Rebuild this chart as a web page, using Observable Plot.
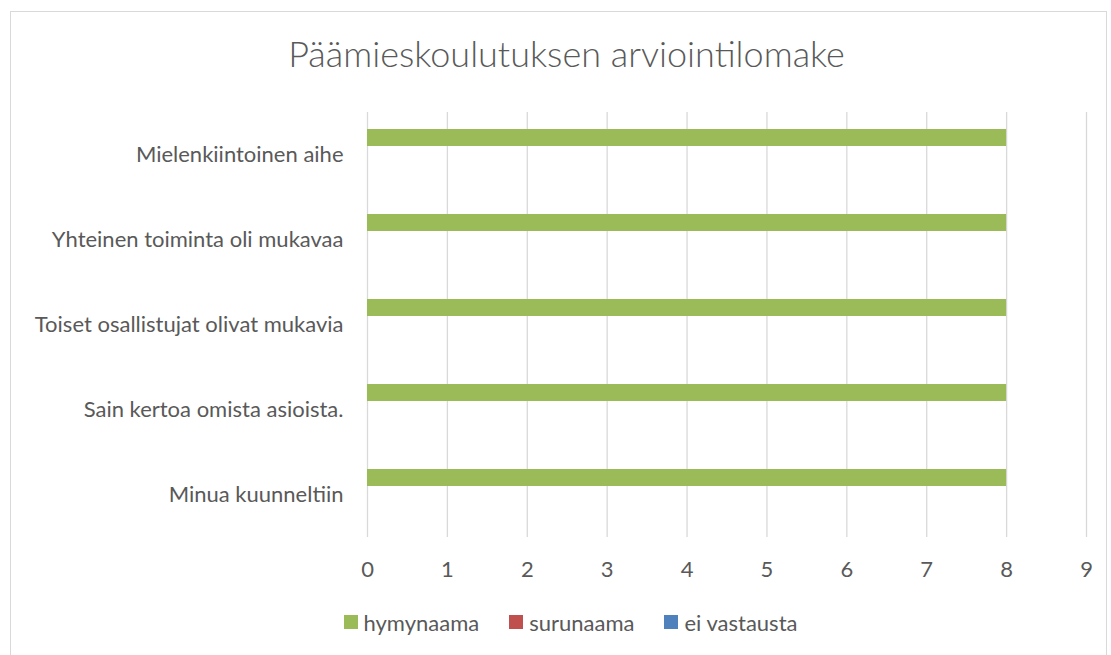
<!DOCTYPE html>
<html>
<head>
<meta charset="utf-8">
<script src="https://cdn.jsdelivr.net/npm/d3@7"></script>
<script src="https://cdn.jsdelivr.net/npm/@observablehq/plot@0.6"></script>
<style>
  html, body { margin: 0; padding: 0; background: #fff; }
  #wrap { position: relative; width: 1111px; height: 655px; overflow: hidden; font-family: Lato, "Open Sans", sans-serif; color: #595959; }
  #border { position: absolute; left: 10px; top: 11px; width: 1097px; height: 660px; border: 1px solid #D9D9D9; box-sizing: border-box; }
  #title { position: absolute; left: 0; width: 1133px; top: 35px; text-align: center; font-size: 36px; font-weight: 300; line-height: 36px; white-space: nowrap; }
  #chart { position: absolute; left: 0; top: 0; }
  #legend { position: absolute; left: 0; width: 1141px; top: 609px; height: 26px; display: flex; justify-content: center; align-items: center; font-size: 22px; }
  .item { display: flex; align-items: center; margin: 0 15px; }
  .sw { width: 14px; height: 14px; margin-right: 6px; }
</style>
</head>
<body>
<div id="wrap">
  <div id="border"></div>
  <div id="title"></div>
  <div id="chart"></div>
  <div id="legend"></div>
</div>
<script>
const title = "Päämieskoulutuksen arviointilomake";
const categories = [
  "Mielenkiintoinen aihe",
  "Yhteinen toiminta oli mukavaa",
  "Toiset osallistujat olivat mukavia",
  "Sain kertoa omista asioista.",
  "Minua kuunneltiin"
];
const series = ["hymynaama", "surunaama", "ei vastausta"];
const colors = ["#9BBB59", "#C0504D", "#4F81BD"];
const hymynaama = [8, 8, 8, 8, 8];
const surunaama = [0, 0, 0, 0, 0];
const eiVastausta = [0, 0, 0, 0, 0];
const xTicks = [0, 1, 2, 3, 4, 5, 6, 7, 8, 9];

const values = [hymynaama, surunaama, eiVastausta];
const data = [];
categories.forEach((c, i) => {
  series.forEach((s, j) => data.push({category: c, series: s, value: values[j][i]}));
});

document.getElementById("title").textContent = title;

const chart = Plot.plot({
  width: 1111,
  height: 590,
  marginTop: 111,
  marginBottom: 53,
  marginLeft: 367,
  marginRight: 25,
  style: {color: "#595959", fontFamily: "Lato, 'Open Sans', sans-serif", background: "transparent"},
  x: {domain: [0, 9], label: null},
  fy: {domain: categories, padding: 0, label: null},
  y: {domain: series, paddingInner: 0, paddingOuter: 0.91, axis: null},
  color: {domain: series, range: colors},
  marks: [
    Plot.gridX(xTicks, {stroke: "#D9D9D9", strokeOpacity: 1, strokeWidth: 1.3}),
    Plot.barX(data, {x: "value", y: "series", fy: "category", fill: "series"}),
    Plot.axisX({ticks: xTicks, tickSize: 0, tickPadding: 24, fontSize: 22, tickFormat: d => String(d), label: null}),
    Plot.axisFy({anchor: "left", tickSize: 0, tickPadding: 24, fontSize: 22, label: null})
  ]
});
document.getElementById("chart").appendChild(chart);

const legend = document.getElementById("legend");
series.forEach((s, i) => {
  const it = document.createElement("div");
  it.className = "item";
  const sw = document.createElement("div");
  sw.className = "sw";
  sw.style.background = colors[i];
  const tx = document.createElement("span");
  tx.textContent = s;
  it.appendChild(sw);
  it.appendChild(tx);
  legend.appendChild(it);
});
</script>
</body>
</html>
